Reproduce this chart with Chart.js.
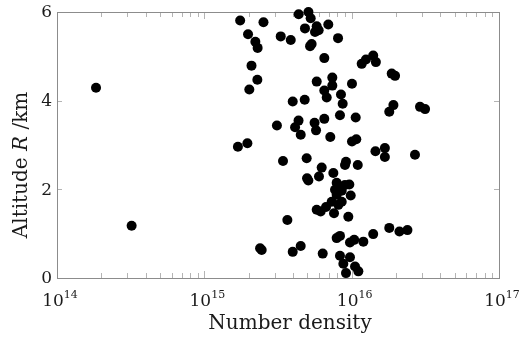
<!DOCTYPE html>
<html>
<head>
<meta charset="utf-8">
<script src="https://cdn.jsdelivr.net/npm/chart.js@4"></script>
<style>
  body{margin:0;background:#fff;}
  #c{display:block;}
</style>
</head>
<body>
<canvas id="c" width="520" height="338"></canvas>
<script>
// number density (x, log axis) and altitude in km (y)
const density = [
  1.84e14, 3.21e14, 1.75e15, 2.52e15, 1.98e15, 2.22e15, 2.30e15, 2.09e15, 2.29e15, 2.02e15,
  3.30e15, 3.86e15, 4.37e15, 5.09e15, 5.27e15, 4.82e15, 5.79e15, 5.64e15, 5.97e15, 6.94e15,
  5.35e15, 5.22e15, 8.08e15, 6.52e15, 1.17e16, 1.25e16, 1.40e16, 1.46e16, 1.87e16, 1.97e16,
  5.79e15, 7.39e15, 7.39e15, 1.005e16, 6.52e15, 6.77e15, 8.46e15, 8.69e15, 3.98e15, 4.80e15,
  1.92e16, 1.80e16, 2.91e16, 3.15e16, 8.33e15, 1.065e16, 3.11e15, 4.13e15, 4.36e15, 4.51e15,
  5.60e15, 5.73e15, 6.52e15, 7.16e15, 1.005e16, 1.075e16, 1.45e16, 1.68e16, 1.68e16, 2.69e16,
  1.96e15, 1.69e15, 3.42e15, 4.95e15, 6.26e15, 6.00e15, 4.98e15, 5.08e15, 7.51e15, 9.01e15,
  9.15e15, 1.10e16, 7.91e15, 9.01e15, 9.64e15, 7.71e15, 8.56e15, 8.12e15, 7.91e15, 9.85e15,
  7.32e15, 8.12e15, 8.56e15, 7.59e15, 5.79e15, 6.16e15, 6.70e15, 9.49e15, 3.66e15, 2.39e15,
  2.45e15, 3.98e15, 4.51e15, 6.36e15, 7.91e15, 8.33e15, 9.74e15, 1.04e16, 1.20e16, 1.40e16,
  1.80e16, 2.11e16, 2.39e16, 8.33e15, 9.74e15, 8.78e15, 1.054e16, 1.11e16, 9.15e15
];
const altitude = [
  4.29, 1.18, 5.81, 5.77, 5.50, 5.33, 5.19, 4.79, 4.47, 4.25,
  5.45, 5.37, 5.95, 6.00, 5.86, 5.63, 5.68, 5.55, 5.59, 5.72,
  5.28, 5.23, 5.41, 4.96, 4.83, 4.93, 5.02, 4.87, 4.61, 4.56,
  4.43, 4.52, 4.34, 4.38, 4.23, 4.07, 4.14, 3.93, 3.98, 4.02,
  3.90, 3.75, 3.86, 3.81, 3.67, 3.62, 3.44, 3.40, 3.55, 3.23,
  3.50, 3.33, 3.59, 3.18, 3.08, 3.13, 2.86, 2.93, 2.73, 2.78,
  3.04, 2.96, 2.64, 2.70, 2.49, 2.29, 2.25, 2.20, 2.37, 2.55,
  2.62, 2.55, 2.15, 2.10, 2.11, 1.99, 1.97, 2.03, 1.88, 1.86,
  1.72, 1.65, 1.72, 1.46, 1.54, 1.50, 1.60, 1.38, 1.31, 0.67,
  0.63, 0.59, 0.72, 0.55, 0.90, 0.95, 0.80, 0.86, 0.82, 0.99,
  1.13, 1.05, 1.08, 0.50, 0.47, 0.32, 0.26, 0.15, 0.11
];
const xDecades = [14, 15, 16, 17];
const yTicks = [0, 2, 4, 6];
const xTitle = 'Number density';

const points = density.map((d, i) => ({x: d, y: altitude[i]}));

const SERIF = '"DejaVu Serif", "Liberation Serif", serif';

const framePlugin = {
  id: 'frame',
  beforeDatasetsDraw(chart){
    const {ctx, chartArea: a, scales: {x, y}} = chart;
    ctx.save();
    // ticks (inward)
    ctx.strokeStyle = '#b4b4b4';
    ctx.lineWidth = 1;
    ctx.beginPath();
    for (let i = 0; i < xDecades.length - 1; i++) {
      for (let m = 1; m <= 9; m++) {
        const px = Math.round(x.getPixelForValue(m * Math.pow(10, xDecades[i]))) + 0.5;
        const len = m === 1 ? 7 : 5;
        ctx.moveTo(px, a.bottom); ctx.lineTo(px, a.bottom - len);
        ctx.moveTo(px, a.top); ctx.lineTo(px, a.top + len);
      }
    }
    yTicks.forEach(v => {
      const py = Math.round(y.getPixelForValue(v)) + 0.5;
      ctx.moveTo(a.left, py); ctx.lineTo(a.left + 5, py);
      ctx.moveTo(a.right, py); ctx.lineTo(a.right - 5, py);
    });
    ctx.stroke();
    // box
    ctx.strokeStyle = '#8c8c8c';
    ctx.strokeRect(Math.round(a.left) + 0.5, Math.round(a.top) + 0.5,
                   Math.round(a.right - a.left), Math.round(a.bottom - a.top));
    ctx.restore();
  },
  afterDraw(chart){
    const {ctx, chartArea: a, scales: {x, y}} = chart;
    ctx.save();
    ctx.fillStyle = '#1a1a1a';
    // y tick labels
    ctx.font = '17px ' + SERIF;
    ctx.textAlign = 'right';
    ctx.textBaseline = 'middle';
    yTicks.forEach(v => ctx.fillText(String(v), a.left - 5, y.getPixelForValue(v) + 1));
    // x tick labels 10^n
    ctx.textBaseline = 'alphabetic';
    ctx.textAlign = 'left';
    xDecades.forEach(e => {
      const px = x.getPixelForValue(Math.pow(10, e));
      ctx.font = '17px ' + SERIF;
      const wb = ctx.measureText('10').width;
      ctx.font = '11px ' + SERIF;
      const we = ctx.measureText(String(e)).width;
      const x0 = px - (wb + we) / 2 + 3;
      ctx.font = '17px ' + SERIF;
      ctx.fillText('10', x0, a.bottom + 28);
      ctx.font = '11px ' + SERIF;
      ctx.fillText(String(e), x0 + wb, a.bottom + 20);
    });
    // x title
    ctx.font = '20px ' + SERIF;
    ctx.textAlign = 'center';
    ctx.fillText(xTitle, (a.left + a.right) / 2 + 12, a.bottom + 51);
    // y title with italic R
    ctx.textAlign = 'left';
    ctx.translate(27, 165);
    ctx.rotate(-Math.PI / 2);
    const parts = [['Altitude ', 'normal'], ['R', 'italic'], [' /km', 'normal']];
    let total = 0;
    parts.forEach(p => { ctx.font = p[1] + ' 20px ' + SERIF; total += ctx.measureText(p[0]).width; });
    let cx = -total / 2;
    parts.forEach(p => {
      ctx.font = p[1] + ' 20px ' + SERIF;
      ctx.fillText(p[0], cx, 0);
      cx += ctx.measureText(p[0]).width;
    });
    ctx.restore();
  }
};

new Chart(document.getElementById('c'), {
  type: 'scatter',
  data: {
    datasets: [{
      data: points,
      backgroundColor: '#000',
      borderWidth: 0,
      pointRadius: 5,
      clip: false
    }]
  },
  options: {
    responsive: false,
    animation: false,
    layout: {padding: {left: 57, right: 21, top: 12, bottom: 60}},
    plugins: {legend: {display: false}, tooltip: {enabled: false}},
    scales: {
      x: {type: 'logarithmic', display: false, min: 1e14, max: 1e17},
      y: {type: 'linear', display: false, min: 0, max: 6}
    }
  },
  plugins: [framePlugin]
});
</script>
</body>
</html>
